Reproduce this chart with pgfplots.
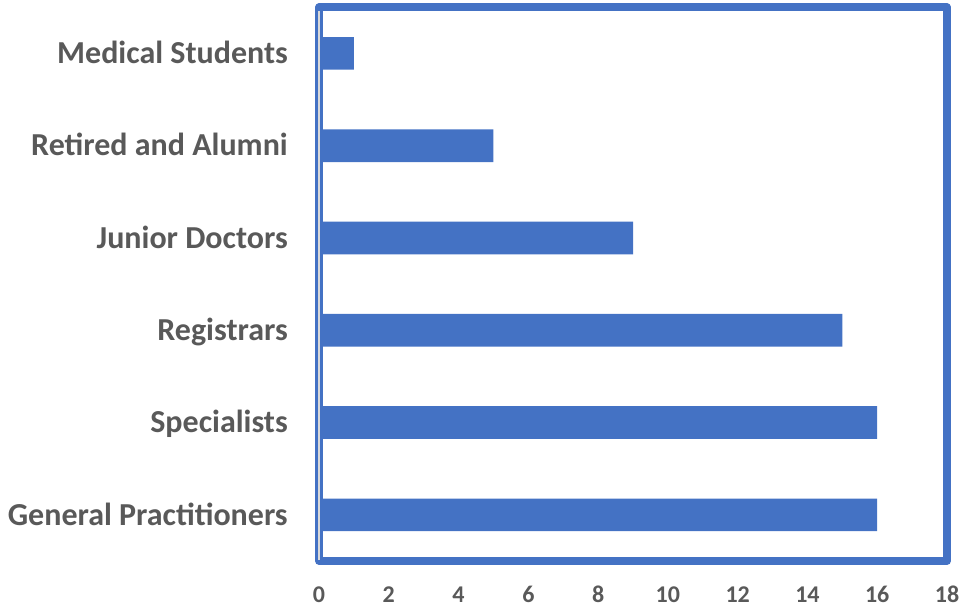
\documentclass[border=0pt]{standalone}
\usepackage{pgfplots}
\pgfplotsset{compat=1.18}
\usepackage{fontspec}
\setmainfont{Carlito}
\definecolor{barblue}{HTML}{4472C4}
\definecolor{labelgray}{HTML}{595959}
\definecolor{axgray}{HTML}{D9D9D9}
\begin{document}
\begin{tikzpicture}
\path[use as bounding box] (0,0) rectangle (963pt,606pt);
\begin{axis}[
  name=ax,
  at={(319pt,45pt)}, anchor=south west,
  scale only axis,
  width=628pt, height=553.8pt,
  xbar, bar shift=0pt, bar width=32.7pt,
  xmin=0, xmax=18, ymin=-0.5, ymax=5.5,
  xtick={0,2,4,6,8,10,12,14,16,18},
  xticklabels={0,2,4,6,8,10,12,14,16,18},
  ytick={0,1,2,3,4,5},
  yticklabels={General Practitioners,Specialists,Registrars,Junior Doctors,Retired and Alumni,Medical Students},
  major tick length=0pt,
  axis on top,
  axis line style={draw=barblue, line width=7.5pt, line join=round},
  xticklabel style={font=\bfseries\fontsize{24}{28}\selectfont, text=labelgray, anchor=base, inner sep=0pt, text depth=0pt, yshift=-41.5pt},
  yticklabel style={font=\bfseries\fontsize{32}{37}\selectfont, text=labelgray, anchor=base east, inner sep=0pt, xshift=-31pt, yshift=-10.3pt},
]
\addplot[fill=barblue, draw=none] coordinates {(16,0) (16,1) (15,2) (9,3) (5,4) (1,5)};
\end{axis}
\draw[axgray, line width=1.6pt] ([yshift=1pt]ax.south west) -- ([yshift=-3.75pt]ax.north west);
\end{tikzpicture}
\end{document}
